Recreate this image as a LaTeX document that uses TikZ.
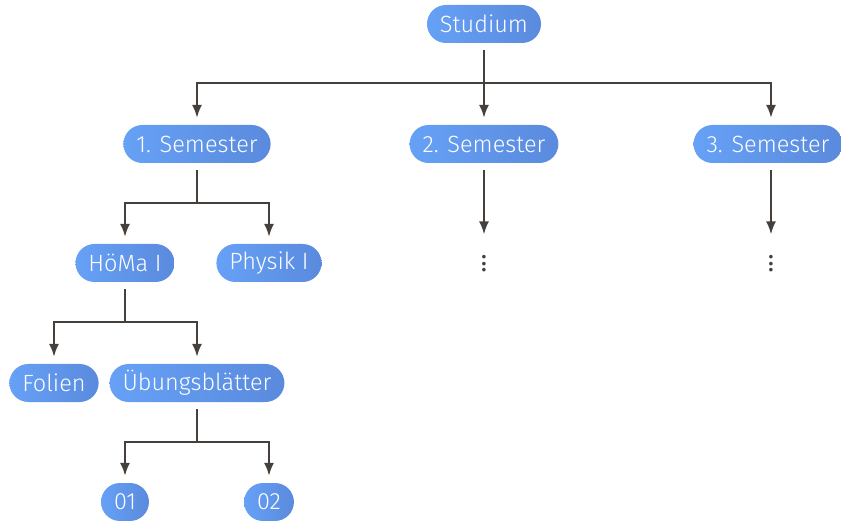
\documentclass[tikz,border=0pt]{standalone}
\usepackage{fontspec}
\setmainfont{Fira Sans}[UprightFont={* Light}]
\usetikzlibrary{arrows.meta}
\definecolor{pillleft}{HTML}{66A1F6}
\definecolor{pillright}{HTML}{5A8ADD}
\definecolor{linkcol}{HTML}{45403C}
\begin{document}
\begin{tikzpicture}[
  x=1pt,
  y=-1pt,
  font=\fontsize{23.5}{28}\selectfont,
  pill/.style={
    left color=pillleft,
    right color=pillright,
    text=white,
    draw=none,
    rounded corners=19pt,
    minimum height=38pt,
    inner xsep=13pt
  },
  ellipsis/.style={
    text=linkcol,
    scale=1.6
  },
  a/.style={
    -{Latex[length=13pt,width=10pt]},
    line width=1.9pt,
    draw=linkcol,
    shorten <=7pt,
    shorten >=7pt
  }
  ]
  \useasboundingbox (0,0) rectangle (841,521);

  \node (studium) [pill] at (484,24) {Studium};
  \node (sem1) [pill] at (197,144) {1. Semester};
  \node (sem2) [pill] at (484,144) {2. Semester};
  \node (sem3) [pill] at (768,144) {3. Semester};
  \node (hoema) [pill] at (125,263) {HöMa I};
  \node (physik) [pill] at (269,263) {Physik I};
  \node (dots2) [ellipsis] at (484,259) {$\vdots$};
  \node (dots3) [ellipsis] at (771,259) {$\vdots$};
  \node (folien) [pill] at (54,383) {Folien};
  \node (blaetter) [pill] at (197,383) {Übungsblätter};
  \node (nr01) [pill] at (125,502) {01};
  \node (nr02) [pill] at (269,502) {02};

  \draw [a] (studium.south) -- ++(0,40) -| (sem1.north);
  \draw [a] (studium.south) -- ++(0,40) -| (sem2.north);
  \draw [a] (studium.south) -- ++(0,40) -| ([xshift=3pt]sem3.north);
  \draw [a] (sem1.south) -- ++(0,40) -| (hoema.north);
  \draw [a] (sem1.south) -- ++(0,40) -| (physik.north);
  \draw [a] (sem2.south) -- ([yshift=-1pt]dots2.north);
  \draw [a] ([xshift=3pt]sem3.south) -- ([yshift=-1pt]dots3.north);
  \draw [a] (hoema.south) -- ++(0,40) -| (folien.north);
  \draw [a] (hoema.south) -- ++(0,40) -| (blaetter.north);
  \draw [a] (blaetter.south) -- ++(0,40) -| (nr01.north);
  \draw [a] (blaetter.south) -- ++(0,40) -| (nr02.north);
\end{tikzpicture}
\end{document}
